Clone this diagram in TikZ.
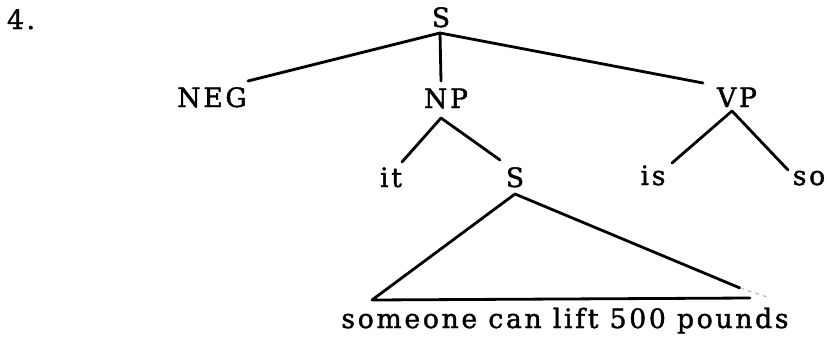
\documentclass[tikz,border=0pt]{standalone}
\usepackage{fontspec}
\setmainfont{DejaVu Serif}[LetterSpace=10,FakeBold=1.5]
\begin{document}
\begin{tikzpicture}[x=0.75pt,y=-0.75pt,
  lbl/.style={anchor=base,inner sep=0pt,font=\fontsize{20pt}{24pt}\selectfont},
  branch/.style={line width=2.1pt,line cap=round,line join=round},
  fade/.style={line width=0.8pt,gray!60,dashed}]
\useasboundingbox (0,0) rectangle (827,339);
% labels
\node[lbl] (num) at (21,29) {4.};
\node[lbl] (Stop) at (441,27) {S};
\node[lbl] (NEG) at (212,107) {NEG};
\node[lbl] (NP) at (446,108) {NP};
\node[lbl] (VP) at (737,107) {VP};
\node[lbl] (it) at (391,187) {it};
\node[lbl] (Slow) at (515,187) {S};
\node[lbl] (is) at (653,185) {is};
\node[lbl] (so) at (809,185) {so};
\node[lbl] (sent) at (565,328) {someone can lift 500 pounds};
% connector points
\coordinate (sj) at (440,33);
\coordinate (negE) at (248,81);
\coordinate (npE) at (441,81);
\coordinate (vpE) at (703,83);
\coordinate (npj) at (441,118);
\coordinate (itE) at (402,162);
\coordinate (slE) at (500,160);
\coordinate (vpj) at (732,111);
\coordinate (isE) at (672,163);
\coordinate (soE) at (788,170);
\coordinate (tj) at (515,194);
\coordinate (tl) at (372,300);
\coordinate (tr) at (740,288);
\coordinate (tb) at (750,298);
\coordinate (tf) at (770,298);
% branches
\draw[branch] (negE) -- (sj) -- (vpE);
\draw[branch] (sj) -- (npE);
\draw[branch] (itE) -- (npj) -- (slE);
\draw[branch] (isE) -- (vpj) -- (soE);
\draw[branch] (tr) -- (tj) -- (tl) -- (tb);
\draw[fade] (tr) -- (tf);
\end{tikzpicture}
\end{document}
